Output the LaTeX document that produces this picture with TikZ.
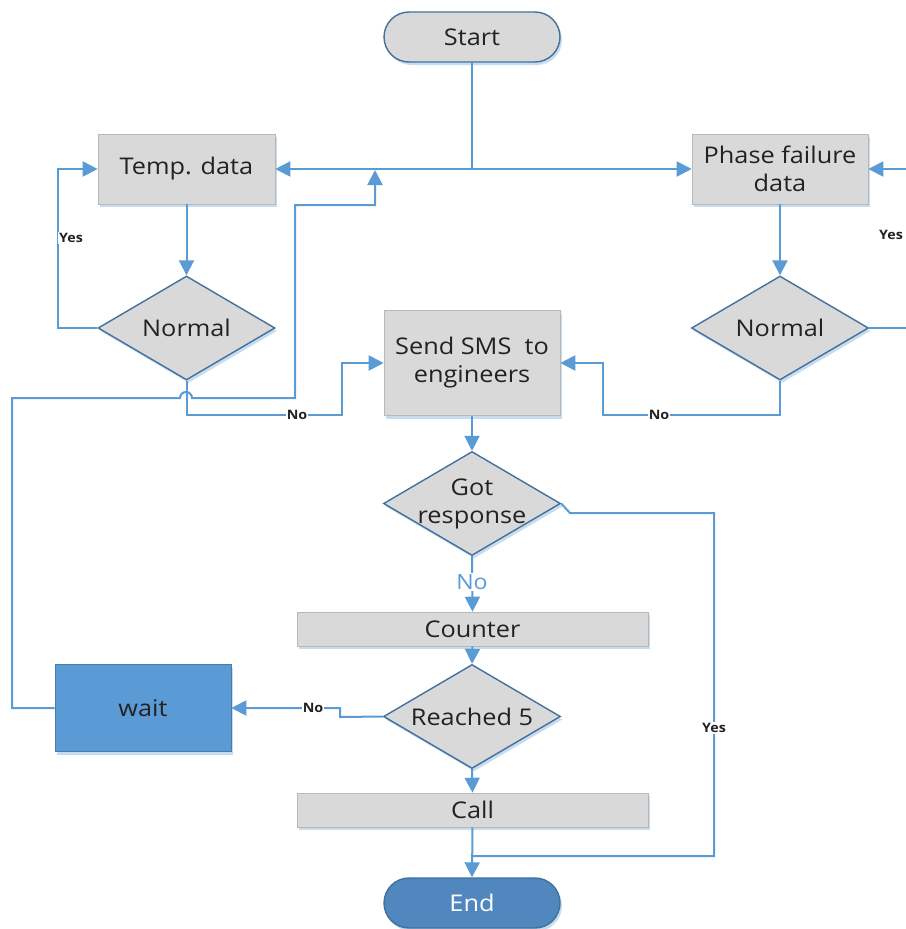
\documentclass[tikz,border=0pt]{standalone}
\usepackage{fontspec}
\setmainfont{Open Sans}[FakeStretch=1.1]
\usetikzlibrary{shapes.geometric,arrows.meta,shadows}
\definecolor{lineblue}{HTML}{5B9BD5}
\definecolor{darkblue}{HTML}{41719C}
\definecolor{boxgray}{HTML}{D9D9DA}
\definecolor{shadowblue}{HTML}{C8DCF0}
\definecolor{endblue}{HTML}{4F87BE}
\definecolor{txt}{HTML}{222222}
\tikzset{
  conn/.style={draw=lineblue, line width=2pt},
  arr/.style={conn, -{Triangle[length=15pt,width=15pt]}},
  shad/.style={drop shadow={shadow xshift=2pt, shadow yshift=-3pt, fill=shadowblue, opacity=1}},
  txtstyle/.style={text=txt, font=\fontsize{23}{28}\selectfont, align=center, inner sep=0pt},
  procbox/.style={rectangle, fill=boxgray, draw=boxgray!85!black, line width=0.6pt, shad, txtstyle},
  decide/.style={diamond, fill=boxgray, draw=darkblue, line width=1.4pt, shad, inner sep=0pt, minimum width=177pt, minimum height=104pt},
  terminal/.style={rectangle, rounded corners=25pt, draw=darkblue, line width=1.4pt, shad, txtstyle, minimum width=176pt, minimum height=50pt},
  dlabel/.style={txtstyle},
  lbl/.style={fill=white, inner sep=1pt, text=txt, font=\bfseries\fontsize{13}{15}\selectfont},
}
\begin{document}
\begin{tikzpicture}[x=1pt,y=-1pt]
\useasboundingbox (0,0) rectangle (905,929);
% nodes
\node[terminal, fill=boxgray] (start) at (472,37) {Start};
\node[procbox, minimum width=177pt, minimum height=70pt] (temp) at (186.5,169) {Temp. data};
\node[procbox, minimum width=176pt, minimum height=70pt] (phase) at (780,169) {Phase failure\\data};
\node[decide, label={[dlabel]center:Normal}] (norm1) at (186.5,328) {};
\node[decide, label={[dlabel]center:Normal}] (norm2) at (780,328) {};
\node[procbox, minimum width=176pt, minimum height=105pt] (sms) at (472,363) {Send SMS\ \ to\\engineers};
\node[decide, label={[dlabel]center:Got\\response}] (gotr) at (472,503.5) {};
\node[procbox, minimum width=351pt, minimum height=34pt] (counter) at (472.5,629) {Counter};
\node[decide, label={[dlabel]center:Reached 5}] (reach) at (472,716.5) {};
\node[rectangle, fill=lineblue, draw=lineblue!80!black, line width=0.6pt, shad, txtstyle, minimum width=176pt, minimum height=87pt] (wait) at (143,708) {wait};
\node[procbox, minimum width=351pt, minimum height=34pt] (call) at (472.5,810) {Call};
\node[terminal, fill=endblue, text=white] (end) at (472,903) {End};
% coordinates
\coordinate (jn) at (472,169);
\coordinate (yl) at (58,328);
\coordinate (nb1) at (342,415);
\coordinate (nb2) at (603,415);
\coordinate (ry) at (908,328);
\coordinate (wl) at (12,708);
\coordinate (hopa) at (180,398);
\coordinate (wr) at (295,398);
\coordinate (wt) at (295,205);
\coordinate (wu) at (375,205);
\coordinate (wend) at (375,170);
\coordinate (gd) at (570,513);
\coordinate (gr) at (714,513);
\coordinate (gb) at (714,856);
\coordinate (ge) at (472,856);
\coordinate (rl) at (340,717);
\coordinate (rm) at (340,708);
% connectors
\draw[conn] (start.south) -- (jn);
\draw[arr] (jn) -- (temp.east);
\draw[arr] (jn) -- (phase.west);
\draw[arr] (temp.south) -- (norm1.north);
\draw[arr] (phase.south) -- (norm2.north);
\draw[arr] (norm1.west) -- (yl) |- (temp.west);
\draw[arr] (norm2.east) -- (ry) |- (phase.east);
\draw[arr] (norm1.south) |- (nb1) -- (nb1 |- sms.west) -- (sms.west);
\draw[arr] (norm2.south) |- (nb2) -- (nb2 |- sms.east) -- (sms.east);
\draw[arr] (wait.west) -- (wl) |- (hopa) arc[start angle=180, end angle=0, radius=6pt] -- (wr) -- (wt) -- (wu) -- (wend);
\draw[arr] (sms.south) -- (gotr.north);
\draw[conn] (gotr.east) -- (gd) -- (gr) -- (gb) -- (ge);
\draw[arr] (gotr.south) -- (counter.north);
\draw[arr] (counter.south) -- (reach.north);
\draw[arr] (reach.west) -- (rl) -- (rm) -- (wait.east);
\draw[arr] (reach.south) -- (call.north);
\draw[arr] (call.south) -- (end.north);
% labels
\node[lbl] (lyes1) at (71,238) {Yes};
\node[lbl] (lyes2) at (891,235) {Yes};
\node[lbl] (lno1) at (297,415) {No};
\node[lbl] (lno2) at (659,415) {No};
\node[lbl] (lyes3) at (714,728) {Yes};
\node[lbl] (lno4) at (313,708) {No};
\node[fill=white, inner sep=1pt, text=lineblue, font=\fontsize{21}{24}\selectfont] (lno3) at (472,582) {No};
\end{tikzpicture}
\end{document}
